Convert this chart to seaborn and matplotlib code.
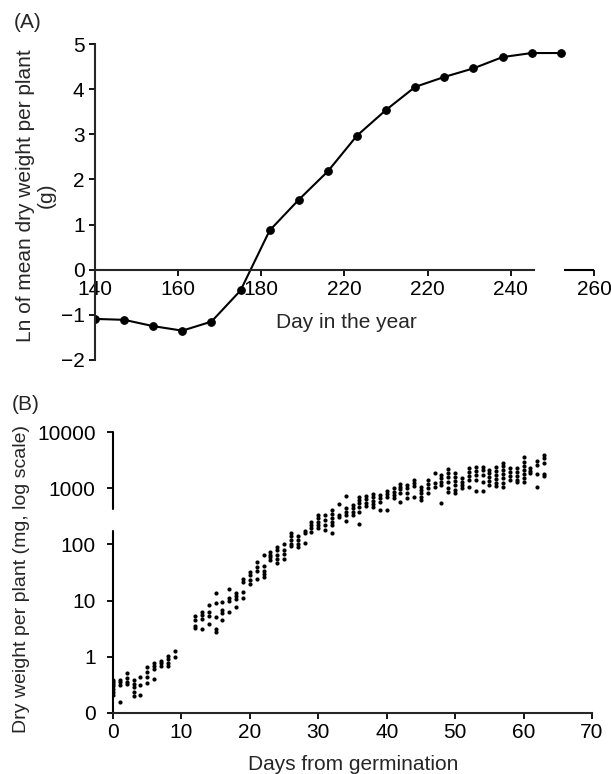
import numpy as np
import pandas as pd
import matplotlib
matplotlib.use("Agg")
import matplotlib.pyplot as plt
import seaborn as sns

# Panel A: ln of mean dry weight per plant (g), one point per week
day_of_year = [140, 147, 154, 161, 168, 175, 182, 189, 196, 203, 210, 217, 224, 231, 238, 245, 252]
ln_dry_weight = [-1.09, -1.11, -1.25, -1.35, -1.15, -0.46, 0.87, 1.55, 2.18, 2.97,
                 3.54, 4.05, 4.27, 4.46, 4.71, 4.80, 4.80]
a_xticks = [140, 160, 180, 200, 220, 240, 260]
a_xticklabels = ["140", "160", "180", "220", "220", "240", "260"]  # misprint kept as in the figure
a_yticks = [-2, -1, 0, 1, 2, 3, 4, 5]

# Panel B: dry weight per plant (mg) of individual plants, by days from germination
germ_days = [0, 1, 2, 3, 4, 5, 6, 7, 8, 9,
             12, 13, 14, 15, 16, 17, 18, 19, 20, 21, 22, 23, 24, 25, 26, 27, 28, 29, 30,
             31, 32, 33, 34, 35, 36, 37, 38, 39, 40, 41, 42, 43, 44, 45, 46, 47, 48, 49, 50,
             51, 52, 53, 54, 55, 56, 57, 58, 59, 60, 61, 62, 63]
dry_mg = [
    [0.39, 0.36, 0.33, 0.30, 0.27, 0.24, 0.21],
    [0.39, 0.35, 0.31, 0.16],
    [0.51, 0.42, 0.36, 0.33],
    [0.39, 0.33, 0.29, 0.24, 0.20],
    [0.44, 0.32, 0.21],
    [0.65, 0.54, 0.44, 0.34],
    [0.76, 0.68, 0.60, 0.40],
    [0.85, 0.76, 0.68],
    [1.03, 0.90, 0.79, 0.68],
    [1.28, 0.98],
    [5.3, 4.5, 3.5, 3.2],
    [6.3, 5.5, 4.8, 3.1],
    [8.4, 6.3, 5.3, 3.9],
    [13.5, 9.0, 5.2, 3.1, 2.8],
    [9.6, 6.8, 5.9, 4.5],
    [15.9, 11.0, 9.8, 6.3],
    [13.5, 12.0, 10.5, 7.8],
    [24, 21, 14.5, 11.2],
    [32.6, 28.5, 23, 20],
    [49, 40, 34, 24],
    [66, 42, 34, 30, 26],
    [74, 66, 60, 52],
    [91, 78, 65, 55, 46],
    [102, 80, 68, 55],
    [162, 140, 120, 102, 92],
    [140, 120, 100, 90],
    [175, 157, 104],
    [254, 221, 193, 168],
    [331, 289, 253, 221, 193],
    [331, 270, 221, 180],
    [407, 347, 289, 253, 221, 157],
    [525, 331, 309],
    [736, 437, 380, 331, 263],
    [500, 437, 380, 331],
    [708, 617, 538, 457, 380, 229],
    [724, 631, 550, 479],
    [794, 692, 603, 525, 468],
    [759, 661, 575, 417],
    [904, 794, 692, 417],
    [1000, 871, 759, 661],
    [1186, 1064, 955, 832, 575],
    [1148, 1000, 813, 661],
    [1400, 1219, 1096, 692],
    [1035, 933, 832, 708, 617],
    [1400, 1186, 1000, 813],
    [1888, 1219, 1035],
    [1714, 1496, 1306, 1138, 550],
    [2163, 1888, 1603, 1306, 1000, 871],
    [1888, 1603, 1361, 1138, 933, 813],
    [1496, 1306, 1138, 1000],
    [2254, 1968, 1648, 1400, 1035],
    [2399, 2042, 1714, 1400, 904],
    [2399, 2100, 1750, 1306, 904],
    [2109, 1837, 1603, 1361, 1138],
    [2399, 2042, 1714, 1435, 1253, 1096],
    [2844, 2483, 2109, 1778, 1496, 1219, 1064],
    [2254, 1968, 1648, 1400],
    [2254, 1968, 1648, 1400, 1300],
    [3540, 2951, 2483, 2109, 1778, 1496, 1306],
    [2254, 2042, 1837],
    [3090, 2570, 1778, 1064],
    [3890, 3396, 2844, 1778, 1648],
]
b_yticks = [0.1, 1, 10, 100, 1000, 10000]
b_yticklabels = ["0", "1", "10", "100", "1000", "10000"]
b_xticks = [0, 10, 20, 30, 40, 50, 60, 70]

sns.set_theme(style="ticks")
plt.rcParams["font.family"] = ["Liberation Sans", "DejaVu Sans"]
plt.rcParams["axes.linewidth"] = 1.5

fig = plt.figure(figsize=(6.11, 7.74), dpi=100)
W, H = 611, 774

def px_axes(left, top, right, bottom):
    return fig.add_axes([left / W, 1 - bottom / H, (right - left) / W, (bottom - top) / H])

# ---------------- panel A ----------------
axA = px_axes(95, 44, 594, 360)
sns.lineplot(x=day_of_year, y=ln_dry_weight, marker="o", color="black", linewidth=1.5,
             markersize=5.5, markeredgecolor="black", sort=False, ax=axA)
axA.set_xlim(140, 260)
axA.set_ylim(-2, 5)
axA.spines["top"].set_visible(False)
axA.spines["right"].set_visible(False)
axA.spines["bottom"].set_position(("data", 0))
axA.spines["bottom"].set_bounds(140, 245.5)
axA.hlines(0, 252.7, 260, color="black", linewidth=1.5)
axA.set_xticks(a_xticks)
axA.set_xticklabels(a_xticklabels)
axA.set_yticks(a_yticks)
axA.set_yticklabels([f"{v}".replace("-", "\u2212") for v in a_yticks])
axA.tick_params(direction="out", length=4.5, width=1.3, labelsize=15, pad=3, colors="black")
axA.set_xlabel("Day in the year", fontsize=15, va="center")
axA.xaxis.set_label_coords(0.503, 0.12)
axA.set_ylabel("Ln of mean dry weight per plant\n(g)", fontsize=15, va="center", linespacing=1.15)
axA.yaxis.set_label_coords(-0.118, 0.52)
fig.text(28 / W, 1 - 22 / H, "(A)", fontsize=15, ha="center", va="center")

# ---------------- panel B ----------------
rows = [(d, w) for d, ws in zip(germ_days, dry_mg) for w in ws]
df_b = pd.DataFrame(rows, columns=["day", "mg"])

axB = px_axes(113, 432, 592, 713)
sns.scatterplot(data=df_b, x="day", y="mg", color="black", s=9, linewidth=0, ax=axB)
axB.set_yscale("log")
axB.set_ylim(0.1, 10000)
axB.set_xlim(0, 70)
axB.set_yticks(b_yticks)
axB.set_yticklabels(b_yticklabels)
axB.yaxis.set_minor_locator(matplotlib.ticker.NullLocator())
axB.set_xticks(b_xticks)
axB.spines["top"].set_visible(False)
axB.spines["right"].set_visible(False)
axB.spines["left"].set_visible(False)
# broken vertical axis between 100 and 1000
axB.axvline(0, ymin=0.726, ymax=1.0, color="black", linewidth=1.5, clip_on=False)
axB.axvline(0, ymin=0.0, ymax=0.648, color="black", linewidth=1.5, clip_on=False)
axB.tick_params(direction="out", length=4.5, width=1.3, labelsize=15, colors="black")
axB.tick_params(axis="y", pad=8)
axB.tick_params(axis="x", pad=3)
axB.set_xlabel("Days from germination", fontsize=15, va="center")
axB.xaxis.set_label_coords(0.501, -0.185)
axB.set_ylabel("Dry weight per plant (mg, log scale)", fontsize=14, va="center")
axB.yaxis.set_label_coords(-0.19, 0.477)
fig.text(26 / W, 1 - 404 / H, "(B)", fontsize=15, ha="center", va="center")

fig.savefig("out.png", dpi=100, facecolor="white")
